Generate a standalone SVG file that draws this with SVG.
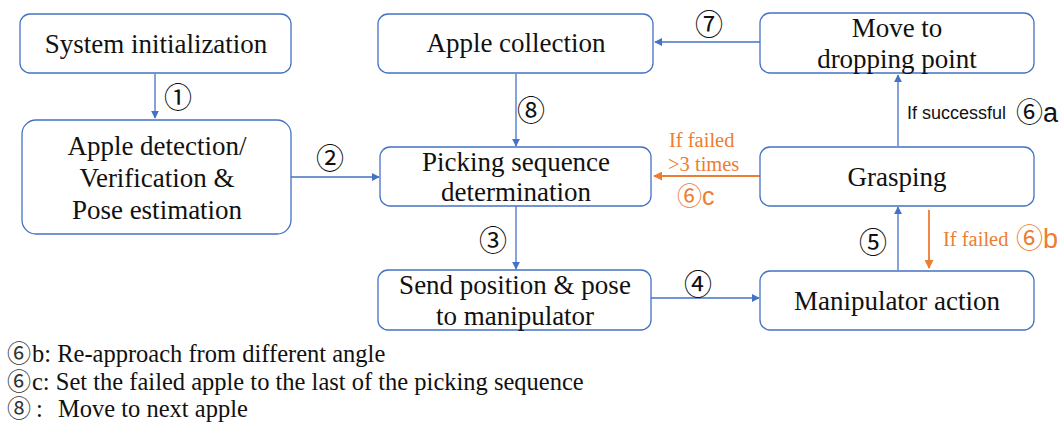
<svg xmlns="http://www.w3.org/2000/svg" width="1059" height="423" viewBox="0 0 1059 423">
<style>
.box{fill:#fff;stroke:#4472C4;stroke-width:1.3}
.b{stroke:#4472C4;stroke-width:1.3;fill:none}
.o{stroke:#ED7D31;stroke-width:1.8;fill:none}
</style>
<defs>
<marker id="ab" viewBox="0 0 10 10" refX="9" refY="5" markerWidth="8" markerHeight="8" markerUnits="userSpaceOnUse" orient="auto"><path d="M0,0L10,5L0,10z" fill="#4472C4"/></marker>
<marker id="ao" viewBox="0 0 10 10" refX="9" refY="5" markerWidth="9" markerHeight="9" markerUnits="userSpaceOnUse" orient="auto"><path d="M0,0L10,5L0,10z" fill="#ED7D31"/></marker>
</defs>
<rect width="1059" height="423" fill="#fff"/>
<g id="connectors">
<path class="b" d="M155,74V118" marker-end="url(#ab)"/>
<path class="b" d="M291,177H379" marker-end="url(#ab)"/>
<path class="b" d="M516,74V146" marker-end="url(#ab)"/>
<path class="b" d="M760,42H655" marker-end="url(#ab)"/>
<path class="b" d="M516,206V269" marker-end="url(#ab)"/>
<path class="b" d="M651,298H759" marker-end="url(#ab)"/>
<path class="b" d="M898,270V207" marker-end="url(#ab)"/>
<path class="o" d="M929,210V268" marker-end="url(#ao)"/>
<path class="b" d="M898,146V75" marker-end="url(#ab)"/>
<path class="o" d="M760,176H654" marker-end="url(#ao)"/>
<g font-family="Noto Sans CJK SC, DejaVu Sans, sans-serif" font-size="28" fill="#111" text-anchor="middle">
<text x="178" y="108">①</text>
<text x="330" y="169">②</text>
<text x="531" y="121">⑧</text>
<text x="709" y="35">⑦</text>
<text x="493" y="251">③</text>
<text x="698" y="295">④</text>
<text x="873" y="253">⑤</text>
</g>
<g font-family="Liberation Serif, serif" font-size="20.5" fill="#ED7D31">
<text x="943" y="246">If failed</text>
<text x="669" y="147">If failed</text>
<text x="668" y="171">&gt;3 times</text>
</g>
<text x="1016" y="248" font-family="Noto Sans CJK SC, DejaVu Sans, sans-serif" font-size="27" fill="#ED7D31">⑥<tspan font-family="Liberation Sans, sans-serif">b</tspan></text>
<text x="677" y="205" font-family="Noto Sans CJK SC, DejaVu Sans, sans-serif" font-size="25" fill="#ED7D31">⑥<tspan font-family="Liberation Sans, sans-serif">c</tspan></text>
<text x="907" y="119" font-family="Liberation Sans, sans-serif" font-size="18" fill="#111">If successful</text>
<text x="1016" y="122" font-family="Noto Sans CJK SC, DejaVu Sans, sans-serif" font-size="27" fill="#111">⑥<tspan font-family="Liberation Sans, sans-serif">a</tspan></text>
</g>
<g font-family="Liberation Serif, serif" font-size="27" fill="#111" text-anchor="middle">
<g id="n1"><rect class="box" x="20" y="14" width="271" height="59" rx="10"/><text x="156" y="53">System initialization</text></g>
<g id="n2"><rect class="box" x="22" y="120" width="269" height="114" rx="14"/><text x="157" y="155">Apple detection/</text><text x="157" y="187">Verification &amp;</text><text x="157" y="219">Pose estimation</text></g>
<g id="n3"><rect class="box" x="378" y="14" width="275" height="59" rx="10"/><text x="516" y="52">Apple collection</text></g>
<g id="n4"><rect class="box" x="760" y="13" width="274" height="60" rx="10"/><text x="897" y="37">Move to</text><text x="897" y="68">dropping point</text></g>
<g id="n5"><rect class="box" x="380" y="147" width="271" height="59" rx="10"/><text x="516" y="171">Picking sequence</text><text x="516" y="201">determination</text></g>
<g id="n6"><rect class="box" x="760" y="147" width="274" height="59" rx="10"/><text x="897" y="186">Grasping</text></g>
<g id="n7"><rect class="box" x="378" y="270" width="273" height="60" rx="10"/><text x="515" y="294">Send position &amp; pose</text><text x="515" y="325">to manipulator</text></g>
<g id="n8"><rect class="box" x="760" y="271" width="274" height="59" rx="10"/><text x="897" y="310">Manipulator action</text></g>
</g>
<g id="legend" font-family="Liberation Serif, serif" font-size="24.5" fill="#111">
<text x="7" y="362"><tspan font-family="Noto Sans CJK SC, sans-serif" font-size="24" fill="#333">⑥</tspan><tspan x="32">b: Re-approach from different angle</tspan></text>
<text x="7" y="390"><tspan font-family="Noto Sans CJK SC, sans-serif" font-size="24" fill="#333">⑥</tspan><tspan x="32">c: Set the failed apple to the last of the picking sequence</tspan></text>
<text x="7" y="417"><tspan font-family="Noto Sans CJK SC, sans-serif" font-size="24" fill="#333">⑧</tspan><tspan x="36">:</tspan><tspan x="58">Move to next apple</tspan></text>
</g>
</svg>
